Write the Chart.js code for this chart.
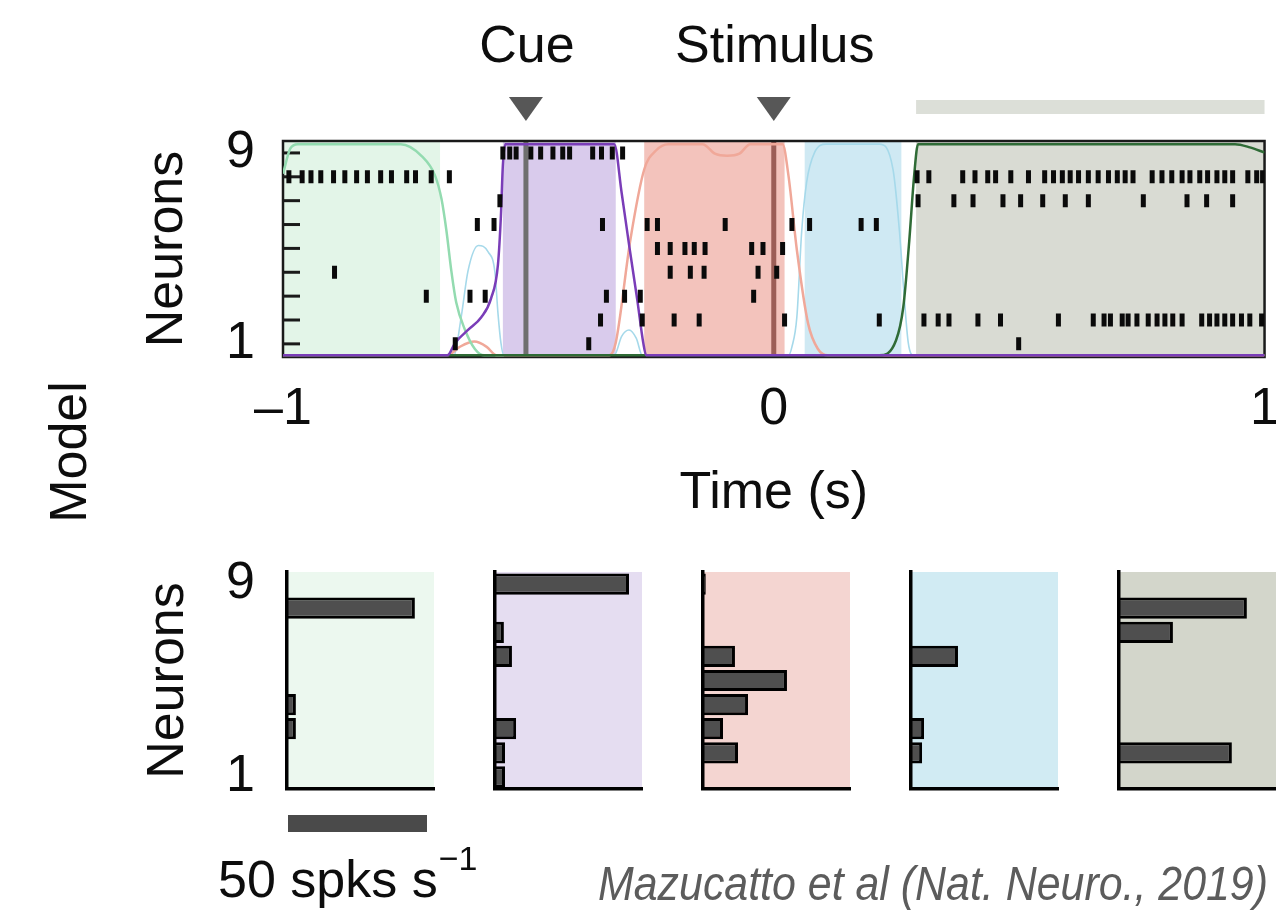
<!DOCTYPE html>
<html>
<head>
<meta charset="utf-8">
<script src="https://cdn.jsdelivr.net/npm/chart.js@4.4.0/dist/chart.umd.min.js"></script>
<style>
  html, body { margin: 0; padding: 0; background: #fff; }
  #wrap { position: relative; width: 1276px; height: 914px; overflow: hidden; }
  #wrap canvas { position: absolute; left: 0; top: 0; }
</style>
</head>
<body>
<div id="wrap">
  <canvas id="raster" width="1300" height="914"></canvas>
  <canvas id="rate0" width="1300" height="914"></canvas>
  <canvas id="rate1" width="1300" height="914"></canvas>
  <canvas id="rate2" width="1300" height="914"></canvas>
  <canvas id="rate3" width="1300" height="914"></canvas>
  <canvas id="rate4" width="1300" height="914"></canvas>
</div>
<script>
const FONT = '"Liberation Sans", Arial, Helvetica, sans-serif';

// time axis and trial events (s)
const timeTicks = [-1, 0, 1];
const eventTimes = [-0.505, 0];
const eventLabels = ['Cue', 'Stimulus'];

// decoded states, start / end (s)
const stateStart = [-1.0, -0.552, -0.264, 0.063, 0.290];
const stateEnd = [-0.680, -0.322, 0.022, 0.260, 1.0];

const neuronIds = [1, 2, 3, 4, 5, 6, 7, 8, 9];

// spike times per neuron (s)
const spikes1 = [-0.649, -0.377, 0.499];
const spikes2 = [-0.353, -0.268, -0.203, -0.152, 0.022, 0.215, 0.306, 0.335, 0.357, 0.416, 0.462, 0.580, 0.651, 0.673, 0.686, 0.710, 0.722, 0.740, 0.763, 0.781, 0.797, 0.813, 0.832, 0.872, 0.888, 0.903, 0.919, 0.935, 0.953, 0.970, 0.994];
const spikes3 = [-0.708, -0.619, -0.588, -0.341, -0.304, -0.272, -0.041];
const spikes4 = [-0.895, -0.211, -0.170, -0.142, -0.032, 0.006];
const spikes5 = [-0.237, -0.211, -0.181, -0.162, -0.140, -0.045, -0.022, 0.018];
const spikes6 = [-0.604, -0.570, -0.349, -0.258, -0.237, -0.099, 0.037, 0.073, 0.178, 0.209];
const spikes7 = [-0.558, 0.294, 0.367, 0.406, 0.467, 0.503, 0.548, 0.594, 0.641, 0.753, 0.842, 0.882, 0.935];
const spikes8 = [-0.988, -0.961, -0.943, -0.923, -0.897, -0.874, -0.850, -0.828, -0.801, -0.779, -0.748, -0.730, -0.698, -0.661, 0.292, 0.316, 0.385, 0.410, 0.436, 0.452, 0.483, 0.519, 0.552, 0.570, 0.588, 0.604, 0.621, 0.641, 0.661, 0.682, 0.700, 0.716, 0.732, 0.771, 0.791, 0.811, 0.832, 0.848, 0.868, 0.884, 0.903, 0.919, 0.935, 0.966, 0.984, 0.996];
const spikes9 = [-0.552, -0.538, -0.525, -0.495, -0.475, -0.450, -0.430, -0.416, -0.369, -0.351, -0.329, -0.308];

// state probabilities [t, p]
const probGreen = [[-1, 0.86], [-0.985, 0.98], [-0.97, 1], [-0.76, 1], [-0.718, 0.945], [-0.69, 0.85], [-0.677, 0.74], [-0.667, 0.59], [-0.657, 0.40], [-0.647, 0.25], [-0.629, 0.12], [-0.609, 0.03], [-0.59, 0], [-0.55, 0]];
const probPurple = [[-1, 0], [-0.665, 0], [-0.649, 0.06], [-0.623, 0.12], [-0.596, 0.18], [-0.576, 0.27], [-0.562, 0.43], [-0.556, 0.66], [-0.552, 0.9], [-0.547, 1], [-0.325, 1], [-0.31, 0.77], [-0.294, 0.51], [-0.278, 0.26], [-0.266, 0.06], [-0.26, 0], [1, 0]];
const probRed = [[-1, 0], [-0.665, 0], [-0.64, 0.04], [-0.61, 0.065], [-0.585, 0.04], [-0.565, 0], [-0.335, 0], [-0.322, 0.06], [-0.292, 0.55], [-0.264, 0.88], [-0.24, 0.97], [-0.215, 1], [-0.145, 1], [-0.12, 0.955], [-0.095, 0.945], [-0.07, 0.955], [-0.048, 1], [0.018, 1], [0.03, 0.85], [0.047, 0.5], [0.07, 0.15], [0.09, 0.03], [0.11, 0], [1, 0]];
const probBlue = [[-1, 0], [-0.652, 0], [-0.637, 0.18], [-0.623, 0.4], [-0.602, 0.52], [-0.582, 0.49], [-0.568, 0.39], [-0.562, 0.2], [-0.556, 0.06], [-0.55, 0], [-0.325, 0], [-0.31, 0.09], [-0.295, 0.12], [-0.28, 0.08], [-0.268, 0], [0.03, 0], [0.037, 0.04], [0.047, 0.18], [0.057, 0.59], [0.067, 0.82], [0.083, 0.96], [0.107, 1], [0.215, 1], [0.243, 0.88], [0.256, 0.59], [0.266, 0.27], [0.274, 0.06], [0.285, 0], [1, 0]];
const probDarkGreen = [[-1, 0], [0.215, 0], [0.249, 0.07], [0.264, 0.23], [0.276, 0.54], [0.286, 0.85], [0.294, 1], [0.94, 1], [0.97, 0.985], [1, 0.96]];

// mean firing rate per state (spks/s), neurons 1..9
const rateGreen = [0, 0, 3.2, 3.2, 0, 0, 0, 46, 0];
const ratePurple = [3.6, 3.6, 7.6, 0, 0, 6.1, 3.2, 0, 48.2];
const rateRed = [0, 12.6, 7.2, 16.2, 30.2, 11.5, 0, 0, 1];
const rateBlue = [0, 4, 4.7, 0, 0, 16.9, 0, 0, 0];
const rateGray = [0, 40.6, 0, 0, 0, 0, 19.4, 46, 0];
const rateScaleBar = 50;

const stateFill = ['#e3f5e8', '#d9cbec', '#f3c3bc', '#cfe9f3', '#d9dbd3'];
const panelFill = ['#ecf8ef', '#e5ddf1', '#f4d5d1', '#d1ebf3', '#d3d6cb'];
const eventLine = ['#6f6f6f', '#9c5e57'];

function drawText(ctx, str, x, y, o) {
  ctx.save();
  ctx.font = o.font;
  ctx.fillStyle = o.color || '#0d0d0d';
  ctx.textAlign = o.align || 'center';
  ctx.textBaseline = 'alphabetic';
  ctx.translate(x, y);
  if (o.rotate) ctx.rotate(o.rotate);
  if (o.fitWidth) ctx.scale(o.fitWidth / ctx.measureText(str).width, 1);
  ctx.fillText(str, 0, 0);
  ctx.restore();
}

const rasterDecor = {
  id: 'rasterDecor',
  beforeDatasetsDraw(chart) {
    const { ctx, chartArea: a, scales: { x, y } } = chart;
    ctx.save();
    stateStart.forEach((t0, i) => {
      const x0 = x.getPixelForValue(t0), x1 = x.getPixelForValue(stateEnd[i]);
      ctx.fillStyle = stateFill[i];
      ctx.fillRect(x0, a.top, x1 - x0, a.bottom - a.top);
    });
    eventTimes.forEach((t, i) => {
      const px = x.getPixelForValue(t);
      ctx.strokeStyle = eventLine[i];
      ctx.lineWidth = 5;
      ctx.beginPath(); ctx.moveTo(px, a.top); ctx.lineTo(px, a.bottom); ctx.stroke();
    });
    ctx.strokeStyle = '#1a1a1a';
    ctx.lineWidth = 2.5;
    ctx.strokeRect(a.left, a.top, a.right - a.left, a.bottom - a.top);
    // inward tick marks, one per neuron
    ctx.lineWidth = 3;
    neuronIds.forEach(n => {
      const py = y.getPixelForValue(n);
      ctx.beginPath(); ctx.moveTo(a.left, py); ctx.lineTo(a.left + 17, py); ctx.stroke();
    });
    ctx.restore();
  },
  afterDraw(chart) {
    const { ctx, chartArea: a, scales: { x } } = chart;
    const big = `52px ${FONT}`;
    eventTimes.forEach((t, i) => {
      const px = x.getPixelForValue(t);
      drawText(ctx, eventLabels[i], px + 1, 62, { font: big });
      ctx.fillStyle = '#575757';
      ctx.beginPath();
      ctx.moveTo(px - 17, 97); ctx.lineTo(px + 17, 97); ctx.lineTo(px, 121);
      ctx.closePath(); ctx.fill();
    });
    // bar above the last state
    const last = stateStart.length - 1;
    const gx0 = x.getPixelForValue(stateStart[last]);
    const gx1 = x.getPixelForValue(stateEnd[last]);
    ctx.fillStyle = '#dcdfd8';
    ctx.fillRect(gx0, 100, gx1 - gx0, 14);

    drawText(ctx, 'Neurons', 182, (a.top + a.bottom) / 2, { font: big, rotate: -Math.PI / 2 });
    drawText(ctx, 'Time (s)', (a.left + a.right) / 2, 508, { font: big });
    drawText(ctx, 'Model', 86, 452, { font: big, rotate: -Math.PI / 2 });
    drawText(ctx, 'Mazucatto et al (Nat. Neuro., 2019)', 598, 900,
      { font: `italic 48px ${FONT}`, color: '#5c5c5c', align: 'left', fitWidth: 670 });
  }
};

const spikeTrains = [spikes1, spikes2, spikes3, spikes4, spikes5, spikes6, spikes7, spikes8, spikes9];
const spikePoints = spikeTrains.flatMap((times, i) => times.map(t => ({ x: t, y: neuronIds[i] })));
const asXY = pts => pts.map(([x, y]) => ({ x, y }));

function curve(pts, color, width, order) {
  return {
    data: asXY(pts), yAxisID: 'yp', showLine: true,
    borderColor: color, borderWidth: width,
    pointRadius: 0, cubicInterpolationMode: 'monotone', order
  };
}

new Chart(document.getElementById('raster'), {
  type: 'scatter',
  data: {
    datasets: [
      {
        data: spikePoints, yAxisID: 'y', order: 0,
        pointStyle: 'line', pointRotation: 90, pointRadius: 6.5,
        pointBorderColor: '#0a0a0a', pointBorderWidth: 5, borderColor: '#0a0a0a'
      },
      curve(probPurple, '#7a3db8', 2.5, 1),
      curve(probDarkGreen, '#2f6b36', 2.5, 2),
      curve(probGreen, '#93dbb0', 2.5, 3),
      curve(probRed, '#f0a899', 2.5, 4),
      curve(probBlue, '#a6d9ea', 1.6, 5)
    ]
  },
  options: {
    responsive: false, animation: false, devicePixelRatio: 1, events: [],
    layout: { padding: { left: 0, top: 141, right: 30, bottom: 914 - 357 - 100 } },
    plugins: { legend: { display: false }, tooltip: { enabled: false } },
    scales: {
      x: {
        type: 'linear', min: -1, max: 1,
        afterBuildTicks: s => { s.ticks = timeTicks.map(v => ({ value: v })); },
        afterFit: s => { s.height = 100; },
        grid: { display: false, drawTicks: false },
        border: { display: false },
        ticks: {
          autoSkip: false, maxRotation: 0, minRotation: 0, padding: 21, color: '#0d0d0d',
          font: { family: FONT, size: 52 },
          callback: v => (v < 0 ? '\u2013' + Math.abs(v) : String(v))
        }
      },
      y: {
        type: 'linear', position: 'left', min: 0.45, max: 9.5,
        afterBuildTicks: s => { s.ticks = neuronIds.map(v => ({ value: v })); },
        afterFit: s => { s.width = 283; },
        grid: { display: false, drawTicks: false },
        border: { display: false },
        ticks: {
          autoSkip: false, padding: 28, color: '#0d0d0d',
          font: { family: FONT, size: 52 },
          callback: v => (v === 1 || v === 9 ? String(v) : '')
        }
      },
      yp: { type: 'linear', min: -0.008, max: 1.015, display: false }
    }
  },
  plugins: [rasterDecor]
});

const panelDecor = {
  id: 'panelDecor',
  beforeDraw(chart, args, opts) {
    const { ctx, chartArea: a } = chart;
    ctx.save();
    ctx.fillStyle = opts.fill;
    ctx.fillRect(a.left, a.top, a.right - a.left, a.bottom - a.top);
    ctx.restore();
  },
  afterDraw(chart, args, opts) {
    if (!opts.first) return;
    const { ctx, chartArea: a, scales: { x } } = chart;
    const big = `52px ${FONT}`;
    drawText(ctx, 'Neurons', 183, (a.top + a.bottom) / 2, { font: big, rotate: -Math.PI / 2 });
    const x0 = x.getPixelForValue(0) + 1, x1 = x.getPixelForValue(rateScaleBar) + 1;
    ctx.save();
    ctx.fillStyle = '#4a4a4a';
    ctx.fillRect(x0, 815, x1 - x0, 17);
    ctx.font = big;
    const label = rateScaleBar + ' spks s';
    const w = ctx.measureText(label).width;
    ctx.restore();
    drawText(ctx, label, 218, 897, { font: big, align: 'left' });
    drawText(ctx, '\u22121', 218 + w + 1, 870, { font: `34px ${FONT}`, align: 'left' });
  }
};

const rateLabels = neuronIds.slice().reverse().map(String);
const panelRates = [rateGreen, ratePurple, rateRed, rateBlue, rateGray];
const pxPerRate = 139 / rateScaleBar;

panelRates.forEach((rates, i) => {
  const left = 287 + 208 * i;
  const w = i === 4 ? 175 : 147;
  new Chart(document.getElementById('rate' + i), {
    type: 'bar',
    data: {
      labels: rateLabels,
      datasets: [{
        data: rates.slice().reverse(),
        backgroundColor: '#4f4f4f', borderColor: '#000', borderWidth: 3,
        barPercentage: 0.88, categoryPercentage: 1
      }]
    },
    options: {
      indexAxis: 'y', responsive: false, animation: false, devicePixelRatio: 1, events: [],
      layout: { padding: { left: i === 0 ? 0 : left, right: 1300 - left - w, top: 572, bottom: 914 - 789 } },
      plugins: {
        legend: { display: false }, tooltip: { enabled: false },
        panelDecor: { fill: panelFill[i], first: i === 0 }
      },
      scales: {
        x: {
          min: 0, max: w / pxPerRate,
          afterFit: s => { s.height = 0; },
          ticks: { display: false },
          grid: { display: false, drawTicks: false },
          border: { display: true, color: '#000', width: 3.5, z: 2 }
        },
        y: {
          afterFit: s => { s.width = i === 0 ? left : 0; },
          grid: { display: false, drawTicks: false },
          border: { display: true, color: '#000', width: 3.5, z: 2 },
          ticks: {
            display: i === 0, autoSkip: false, padding: 32, color: '#0d0d0d',
            font: { family: FONT, size: 52 },
            callback(v) {
              const lab = this.getLabelForValue(v);
              return lab === '9' || lab === '1' ? lab : '';
            }
          }
        }
      }
    },
    plugins: [panelDecor]
  });
});
</script>
</body>
</html>
